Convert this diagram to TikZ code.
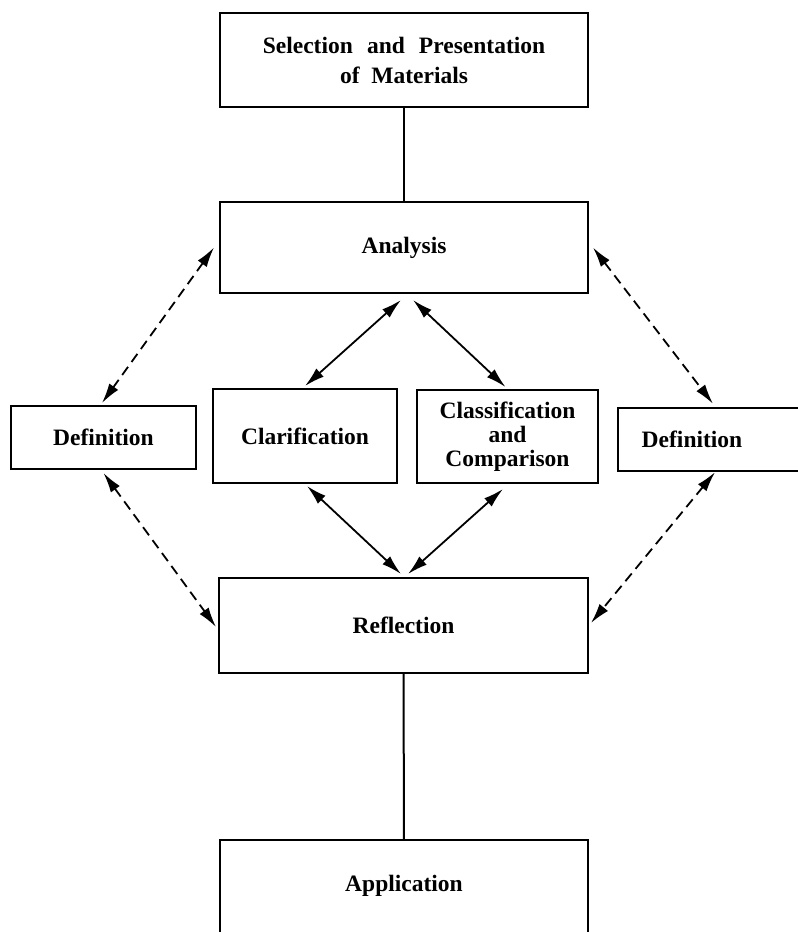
\documentclass[tikz,border=0pt]{standalone}
\usepackage{fontspec}
\setmainfont{Liberation Serif}
\usetikzlibrary{arrows.meta}
\tikzset{
  box/.style={draw, line width=2pt, inner sep=0pt, align=center,
    font=\bfseries\fontsize{23.5}{24}\selectfont},
  openbox/.style={inner sep=0pt, align=center,
    font=\bfseries\fontsize{23.5}{24}\selectfont},
  edge/.style={line width=2pt},
  biarrow/.style={line width=1.8pt, {Latex[length=20pt,width=11pt]}-{Latex[length=20pt,width=11pt]}},
  dasharrow/.style={biarrow, dash pattern=on 10pt off 6pt}
}
\begin{document}
\begin{tikzpicture}[x=1pt,y=-1pt]
\useasboundingbox (0,0) rectangle (798,932);
\fill[white] (0,0) rectangle (798,932);

\node[box, minimum width=368pt, minimum height=94pt,
  font=\bfseries\fontsize{23.5}{30}\selectfont] (top) at (404,60)
  {Selection\hspace{0.6em}and\hspace{0.6em}Presentation\\of\hspace{0.5em}Materials};
\node[box, minimum width=368pt, minimum height=91pt] (ana) at (404,247.5) {Analysis};
\node[box, minimum width=185pt, minimum height=63pt] (defl) at (103.5,437.5) {Definition};
\node[box, minimum width=184pt, minimum height=94pt] (clar) at (305,436) {Clarification};
\node[box, minimum width=181pt, minimum height=93pt] (clas) at (507.5,436.5) {Classification\\and\\Comparison};
\node[openbox, minimum width=148pt, minimum height=63pt] (defr) at (692,439.5) {Definition};
\node[box, minimum width=369pt, minimum height=95pt] (refl) at (403.5,625.5) {Reflection};
\node[openbox, minimum width=368pt, minimum height=92pt] (app) at (404,886) {Application};

% open boxes
\draw[edge] ([xshift=184pt]defr.north west) -- (defr.north west) -- (defr.south west) -- ([xshift=184pt]defr.south west);
\draw[edge] (app.south west) -- (app.north west) -- (app.north east) -- (app.south east);

% plain connectors
\draw[edge] (top) -- (ana);
\draw[edge] (refl) -- (app);

% solid double arrows
\draw[biarrow] ([shift={(-3pt,-6pt)}]ana.south) -- ([yshift=2pt]clar.north);
\draw[biarrow] ([shift={(9pt,-6pt)}]ana.south) -- ([shift={(-2pt,2pt)}]clas.north);
\draw[biarrow] ([shift={(2pt,-2pt)}]clar.south) -- ([shift={(-2.5pt,3pt)}]refl.north);
\draw[biarrow] ([shift={(-4.5pt,-5pt)}]clas.south) -- ([shift={(4.5pt,3pt)}]refl.north);

% dashed double arrows
\draw[dasharrow] ([xshift=-5pt]ana.west) -- ([shift={(-1.5pt,2pt)}]defl.north);
\draw[dasharrow] ([yshift=-3pt]defl.south) -- ([shift={(-2pt,-1.5pt)}]refl.west);
\draw[dasharrow] ([xshift=4pt]ana.east) -- ([shift={(21pt,4pt)}]defr.north);
\draw[dasharrow] ([shift={(23pt,-1pt)}]defr.south) -- ([shift={(2pt,2.5pt)}]refl.east);
\end{tikzpicture}
\end{document}
